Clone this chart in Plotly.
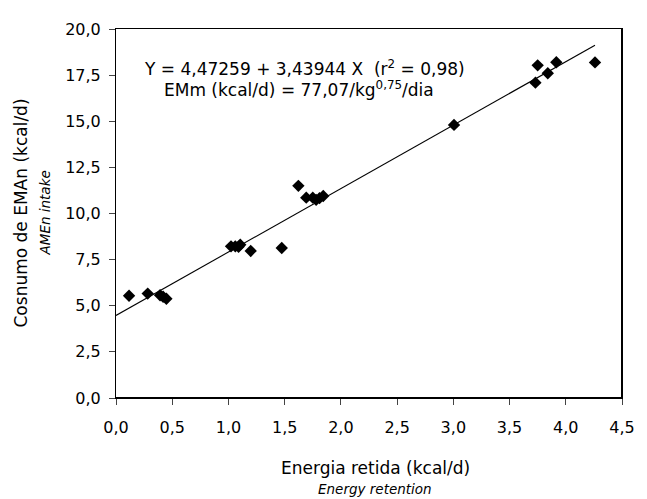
import plotly.graph_objects as go

energy_retained = [0.116, 0.282, 0.392, 0.419, 0.448, 1.023, 1.061, 1.09, 1.105, 1.198, 1.474,
                   1.622, 1.692, 1.75, 1.78, 1.81, 1.843, 3.006, 3.73, 3.75, 3.84, 3.916, 4.26]
amen_intake = [5.54, 5.66, 5.57, 5.49, 5.38, 8.22, 8.22, 8.2, 8.31, 7.97, 8.13,
               11.5, 10.86, 10.86, 10.74, 10.83, 10.95, 14.8, 17.09, 18.03, 17.6, 18.2, 18.19]
intercept = 4.47259
slope = 3.43944
fit_x = [0.0, 4.26]
fit_y = [intercept + slope * v for v in fit_x]

FONT = "DejaVu Sans, Arial, sans-serif"

fig = go.Figure()
fig.add_trace(go.Scatter(x=fit_x, y=fit_y, mode="lines",
                         line=dict(color="black", width=1.1), showlegend=False))
fig.add_trace(go.Scatter(x=energy_retained, y=amen_intake, mode="markers",
                         marker=dict(symbol="diamond", size=9.5, color="black"),
                         showlegend=False))

axis_common = dict(showgrid=False, zeroline=False, showline=True, linecolor="black",
                   linewidth=1, mirror=True, ticks="outside", ticklen=6, tickcolor="#444",
                   tickfont=dict(family=FONT, size=16, color="black"), tickformat=".1f")

fig.update_layout(
    width=639, height=491,
    margin=dict(l=108, r=15, t=12, b=101),
    plot_bgcolor="white", paper_bgcolor="white",
    separators=",.",
    xaxis=dict(range=[0, 4.5], dtick=0.5, ticklabelstandoff=9, **axis_common),
    yaxis=dict(range=[0, 20], dtick=2.5, ticklabelstandoff=5, **axis_common),
    font=dict(family=FONT, color="black"),
    shapes=[
        dict(type="line", xref="paper", yref="paper", x0=0, y0=0, x1=1, y1=0,
             line=dict(color="black", width=2)),
        dict(type="line", xref="paper", yref="paper", x0=1, y0=0, x1=1, y1=1,
             line=dict(color="black", width=2)),
    ],
    annotations=[
        dict(x=0.235, y=17.88, xref="x", yref="y", xanchor="left", yanchor="middle",
             text="Y = 4,47259 + 3,43944 X  (r<sup>2</sup> = 0,98)", showarrow=False,
             font=dict(size=17, family=FONT, color="black")),
        dict(x=0.41, y=16.75, xref="x", yref="y", xanchor="left", yanchor="middle",
             text="EMm (kcal/d) = 77,07/kg<sup>0,75</sup>/dia", showarrow=False,
             font=dict(size=17, family=FONT, color="black")),
        dict(x=0.5, y=0, xref="paper", yref="paper", yshift=-70, xshift=6, xanchor="center",
             yanchor="middle", text="Energia retida (kcal/d)", showarrow=False,
             font=dict(size=17, family=FONT, color="black")),
        dict(x=0.5, y=0, xref="paper", yref="paper", yshift=-91, xshift=6, xanchor="center",
             yanchor="middle", text="<i>Energy retention</i>", showarrow=False,
             font=dict(size=13.5, family=FONT, color="black")),
        dict(x=0, y=0.5, xref="paper", yref="paper", xshift=-96, xanchor="center",
             yanchor="middle", text="Cosnumo de EMAn (kcal/d)", textangle=-90, showarrow=False,
             font=dict(size=17, family=FONT, color="black")),
        dict(x=0, y=0.5, xref="paper", yref="paper", xshift=-72, xanchor="center",
             yanchor="middle", text="<i>AMEn intake</i>", textangle=-90, showarrow=False,
             font=dict(size=13.5, family=FONT, color="black")),
    ],
)

fig.write_html("out.html")
